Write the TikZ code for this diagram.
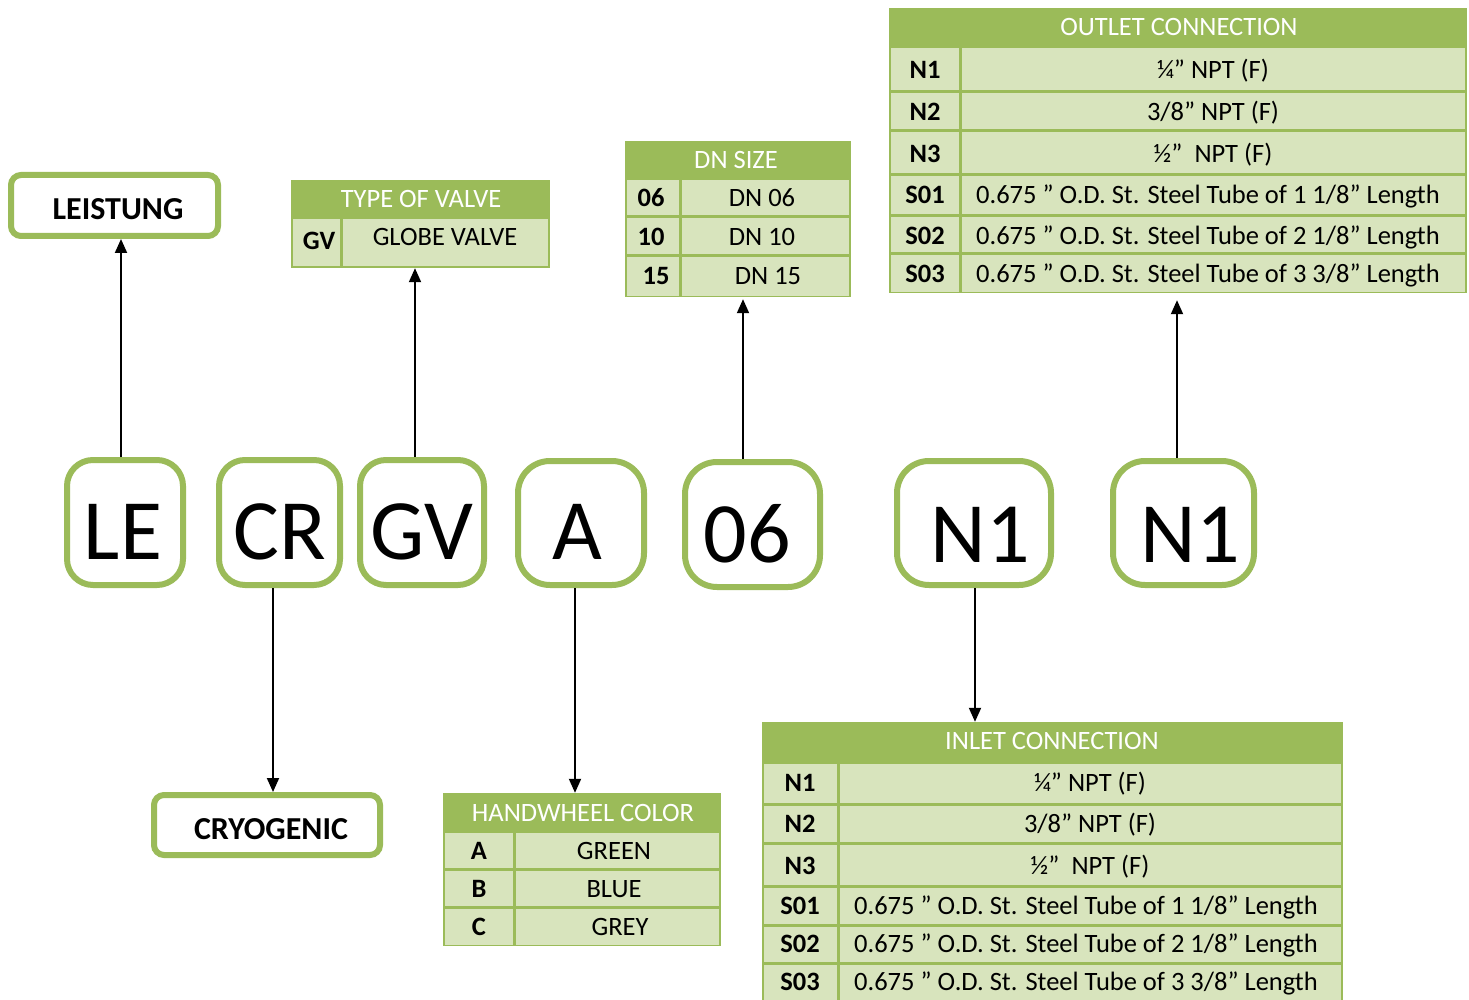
\documentclass[tikz,border=0pt]{standalone}
\usepackage{fontspec}
\setmainfont{Carlito}
\usetikzlibrary{arrows.meta}
\definecolor{hdr}{RGB}{155,187,89}
\definecolor{cellc}{RGB}{216,228,189}
\newcommand\tgridrows[4]{%
  \foreach \ya/\yb in {#4}{%
    \fill[cellc] ({#1+2},{\ya+1.5}) rectangle ({#2-1.5},{\yb-1.5});
    \fill[cellc] ({#2+1.5},{\ya+1.5}) rectangle ({#3-2},{\yb-1.5});
  }}
\begin{document}
\begin{tikzpicture}[x=1pt,y=-1pt,
  bigbox/.style={draw=hdr, line width=6pt, rounded corners=26pt, fill=white, inner sep=0pt},
  bigtxt/.style={anchor=base, inner sep=0pt, font=\fontsize{86}{90}\selectfont},
  lblbox/.style={draw=hdr, line width=6pt, rounded corners=10pt, fill=white, inner sep=0pt},
  lbltxt/.style={anchor=base, inner sep=0pt, font=\bfseries\fontsize{32}{36}\selectfont},
  tbl/.style={fill=hdr, draw=none, inner sep=0pt},
  ht/.style={anchor=base, inner sep=0pt, text=white, font=\fontsize{26.5}{30}\selectfont},
  vt/.style={anchor=base, inner sep=0pt, font=\fontsize{26.5}{30}\selectfont},
  kt/.style={anchor=base, inner sep=0pt, font=\bfseries\fontsize{26.5}{30}\selectfont},
  arr/.style={line width=1.9pt, -{Triangle[length=14pt,width=12pt]}},
]
\useasboundingbox (0,0) rectangle (1469,1000);
\fill[white] (0,0) rectangle (1469,1000);

% ---- big code boxes
\node[bigbox, minimum width=116pt, minimum height=125pt] (le) at (125,522.5) {};
\node[bigbox, minimum width=121pt, minimum height=125pt] (cr) at (279.5,522.5) {};
\node[bigbox, minimum width=124pt, minimum height=125pt] (gv) at (422,522.5) {};
\node[bigbox, rounded corners=32pt, minimum width=126pt, minimum height=124pt] (a) at (581,523) {};
\node[bigbox, rounded corners=32pt, minimum width=135pt, minimum height=125pt] (dn) at (752.5,524.5) {};
\node[bigbox, rounded corners=32pt, minimum width=154pt, minimum height=124pt] (na) at (974,523) {};
\node[bigbox, rounded corners=32pt, minimum width=141pt, minimum height=124pt] (nb) at (1183.5,523) {};
\node[bigtxt] (le-t) at (123,559) {LE};
\node[bigtxt] (cr-t) at (280,559) {CR};
\node[bigtxt] (gv-t) at (422,559) {GV};
\node[bigtxt] (a-t) at (577,559) {A};
\node[bigtxt] (dn-t) at (747,562) {06};
\node[bigtxt] (na-t) at (980,562) {N1};
\node[bigtxt] (nb-t) at (1190,562) {N1};

% ---- label boxes
\node[lblbox, minimum width=207pt, minimum height=61pt] (lei) at (114.5,205.5) {};
\node[lbltxt] (lei-t) at (118,220) {LEISTUNG};
\node[lblbox, minimum width=226pt, minimum height=60pt] (cry) at (267,825) {};
\node[lbltxt] (cry-t) at (271,839) {CRYOGENIC};

% ---- TYPE OF VALVE
\node[tbl, minimum width=259pt, minimum height=88pt] (tov) at (420.5,224) {};
\tgridrows{291}{341}{550}{218/268}
\node[ht] (tov-h) at (421,207.4) {TYPE OF VALVE};
\node[kt] (tov-k1) at (319,249.4) {GV};
\node[vt] (tov-v1) at (445,245.4) {GLOBE VALVE};

% ---- DN SIZE
\node[tbl, minimum width=226pt, minimum height=156pt] (dns) at (738,219) {};
\tgridrows{625}{680}{851}{179/217,217/256,256/297}
\node[ht] (dns-h) at (736,168.4) {DN SIZE};
\node[kt] (dns-k1) at (651,206.4) {06};
\node[vt] (dns-v1) at (762,206.4) {DN 06};
\node[kt] (dns-k2) at (651,245.4) {10};
\node[vt] (dns-v2) at (762,245.4) {DN 10};
\node[kt] (dns-k3) at (656,284.4) {15};
\node[vt] (dns-v3) at (768,284.4) {DN 15};

% ---- OUTLET CONNECTION
\node[tbl, minimum width=578pt, minimum height=285pt] (out) at (1178,150.5) {};
\tgridrows{889}{960}{1467}{47/92,92/131,131/175,175/216,216/254,254/293}
\node[ht] (out-h) at (1179,35.4) {OUTLET CONNECTION};
\node[kt] (out-k1) at (925,78.4) {N1};
\node[vt] (out-v1) at (1213,78.4) {¼” NPT (F)};
\node[kt] (out-k2) at (925,120.4) {N2};
\node[vt] (out-v2) at (1213,120.4) {3/8” NPT (F)};
\node[kt] (out-k3) at (925,162.4) {N3};
\node[vt] (out-v3) at (1213,162.4) {½”~~NPT (F)};
\node[kt] (out-k4) at (925,203.4) {S01};
\node[vt] (out-v4) at (1208,203.4) {0.675 ” O.D. St. Steel Tube of 1 1/8” Length};
\node[kt] (out-k5) at (925,244.4) {S02};
\node[vt] (out-v5) at (1208,244.4) {0.675 ” O.D. St. Steel Tube of 2 1/8” Length};
\node[kt] (out-k6) at (925,282.4) {S03};
\node[vt] (out-v6) at (1208,282.4) {0.675 ” O.D. St. Steel Tube of 3 3/8” Length};

% ---- HANDWHEEL COLOR
\node[tbl, minimum width=278pt, minimum height=153pt] (hw) at (582,869.5) {};
\tgridrows{443}{514}{721}{831/869,869/907,907/946}
\node[ht] (hw-h) at (583,821.4) {HANDWHEEL COLOR};
\node[kt] (hw-k1) at (479,859.4) {A};
\node[vt] (hw-v1) at (614,859.4) {GREEN};
\node[kt] (hw-k2) at (479,897.4) {B};
\node[vt] (hw-v2) at (614,897.4) {BLUE};
\node[kt] (hw-k3) at (479,935.4) {C};
\node[vt] (hw-v3) at (620,935.4) {GREY};

% ---- INLET CONNECTION
\node[tbl, minimum width=581pt, minimum height=284pt] (inl) at (1052.5,864) {};
\tgridrows{762}{838}{1343}{762/804,804/843,843/886,886/925,925/963,963/1010}
\node[ht] (inl-h) at (1052,749.4) {INLET CONNECTION};
\node[kt] (inl-k1) at (800,791.4) {N1};
\node[vt] (inl-v1) at (1090,791.4) {¼” NPT (F)};
\node[kt] (inl-k2) at (800,832.4) {N2};
\node[vt] (inl-v2) at (1090,832.4) {3/8” NPT (F)};
\node[kt] (inl-k3) at (800,874.4) {N3};
\node[vt] (inl-v3) at (1090,874.4) {½”~~NPT (F)};
\node[kt] (inl-k4) at (800,914.4) {S01};
\node[vt] (inl-v4) at (1086,914.4) {0.675 ” O.D. St. Steel Tube of 1 1/8” Length};
\node[kt] (inl-k5) at (800,952.4) {S02};
\node[vt] (inl-v5) at (1086,952.4) {0.675 ” O.D. St. Steel Tube of 2 1/8” Length};
\node[kt] (inl-k6) at (800,990.4) {S03};
\node[vt] (inl-v6) at (1086,990.4) {0.675 ” O.D. St. Steel Tube of 3 3/8” Length};

% ---- connectors
\coordinate (x1) at (121,0);
\coordinate (x2) at (273,0);
\coordinate (x3) at (415,0);
\coordinate (x4) at (575,0);
\coordinate (x5) at (743,0);
\coordinate (x6) at (975,0);
\coordinate (x7) at (1177,0);
\draw[arr] (le.north -| x1) -- (lei.south -| x1);
\draw[arr] (gv.north -| x3) -- (tov.south -| x3);
\draw[arr, shorten >=2pt] (dn.north -| x5) -- (dns.south -| x5);
\draw[arr, shorten >=7pt] (nb.north -| x7) -- (out.south -| x7);
\draw[arr] (cr.south -| x2) -- (cry.north -| x2);
\draw[arr] (a.south -| x4) -- (hw.north -| x4);
\draw[arr] (na.south -| x6) -- (inl.north -| x6);
\end{tikzpicture}
\end{document}
